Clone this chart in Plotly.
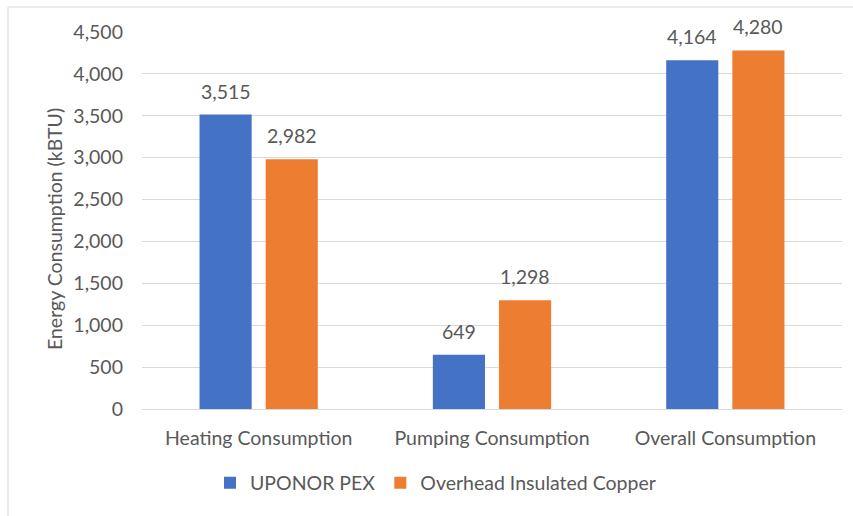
import plotly.graph_objects as go

categories = ["Heating Consumption", "Pumping Consumption", "Overall Consumption"]
series_names = ["UPONOR PEX", "Overhead Insulated Copper"]
uponor_pex = [3515, 649, 4164]
overhead_copper = [2982, 1298, 4280]
y_ticks = [0, 500, 1000, 1500, 2000, 2500, 3000, 3500, 4000, 4500]
y_title = "Energy Consumption (kBTU)"

colors = ["#4472C4", "#ED7D31"]
text_color = "#595959"
grid_color = "#D9D9D9"
font_family = "Lato, Carlito, Calibri, sans-serif"
fs = 19.5

W, H = 853, 516
ML, MR, MT, MB = 142, 11, 32, 107
pw = W - ML - MR
ph = H - MT - MB

fig = go.Figure()
for name, vals, col in zip(series_names, [uponor_pex, overhead_copper], colors):
    fig.add_trace(go.Bar(
        x=categories, y=vals, name=name, marker=dict(color=col, line=dict(width=0)),
        hovertemplate="%{x}<br>%{y:,}<extra>" + name + "</extra>",
    ))

def px_to_paper_x(px):
    return (px - ML) / pw

def px_to_paper_y(py):
    return (H - MB - py) / ph

# data labels from the series values, placed through the axes
annotations = []
offsets = [-33, 33]
for vals, dx in zip([uponor_pex, overhead_copper], offsets):
    for cat, v in zip(categories, vals):
        annotations.append(dict(
            x=cat, y=v, xref="x", yref="y", text=f"{v:,}", showarrow=False,
            xshift=dx, yanchor="bottom", yshift=10,
            font=dict(size=fs, color=text_color, family=font_family),
        ))

# y-axis title
annotations.append(dict(
    x=px_to_paper_x(54), y=px_to_paper_y(229), xref="paper", yref="paper",
    text=y_title, textangle=-90, showarrow=False, xanchor="center", yanchor="middle",
    font=dict(size=fs, color=text_color, family=font_family),
))

shapes = [
    dict(type="line", xref="paper", yref="paper",
         x0=px_to_paper_x(8), x1=px_to_paper_x(W), y0=px_to_paper_y(7), y1=px_to_paper_y(7),
         line=dict(color=grid_color, width=1)),
    dict(type="line", xref="paper", yref="paper",
         x0=px_to_paper_x(8), x1=px_to_paper_x(8), y0=px_to_paper_y(7), y1=px_to_paper_y(H),
         line=dict(color=grid_color, width=1)),
]

fig.update_layout(
    width=W, height=H,
    margin=dict(l=ML, r=MR, t=MT, b=MB, pad=0),
    paper_bgcolor="white", plot_bgcolor="white",
    font=dict(family=font_family, color=text_color, size=fs),
    barmode="group", bargap=0.433, bargroupgap=0.212,
    showlegend=True,
    legend=dict(orientation="h", x=px_to_paper_x(210), xanchor="left",
                y=px_to_paper_y(483), yanchor="middle",
                font=dict(size=fs, color=text_color, family=font_family),
                bgcolor="rgba(0,0,0,0)"),
    shapes=shapes,
    annotations=annotations,
)
fig.update_xaxes(
    showgrid=False, showline=True, linecolor=grid_color, linewidth=1,
    ticks="", tickfont=dict(size=fs, color=text_color), ticklabelstandoff=12,
)
fig.update_yaxes(
    range=[0, 4500], tickvals=y_ticks, ticktext=[f"{v:,}" for v in y_ticks],
    showgrid=True, gridcolor=grid_color, gridwidth=1,
    zeroline=True, zerolinecolor=grid_color, zerolinewidth=1,
    showline=False, ticks="", tickfont=dict(size=fs, color=text_color),
    ticklabelstandoff=18,
)

fig.write_html("out.html")
